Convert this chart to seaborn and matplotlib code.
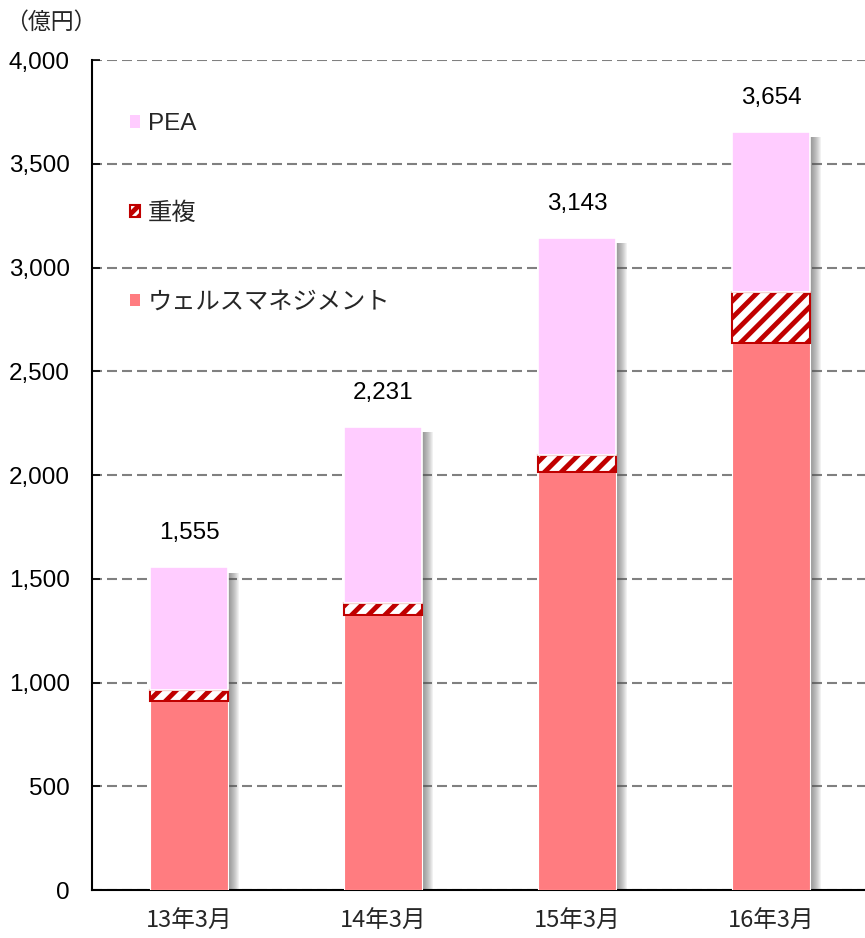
import numpy as np
import pandas as pd
import matplotlib
matplotlib.use("Agg")
import matplotlib.pyplot as plt
from matplotlib.patches import Patch
from matplotlib.ticker import FuncFormatter, MultipleLocator, FixedLocator
import seaborn as sns

# ---- data ----
categories = ["13年3月", "14年3月", "15年3月", "16年3月"]
wealth = [910, 1325, 2015, 2635]      # ウェルスマネジメント
overlap = [55, 58, 82, 245]           # 重複
pea = [590, 848, 1046, 774]           # PEA
totals = [1555, 2231, 3143, 3654]     # labels above bars

sns.set_theme(style="white")
plt.rcParams['font.family'] = ['Liberation Sans', 'Noto Sans CJK JP', 'DejaVu Sans']
plt.rcParams['hatch.linewidth'] = 3.5

C_WEALTH = "#ff7c80"
C_PEA = "#ffccff"
C_HATCH = "#c00000"

df = pd.DataFrame({"cat": categories, "wealth": wealth, "overlap": overlap, "pea": pea})
bottom_overlap = np.array(wealth, dtype=float)
bottom_pea = bottom_overlap + np.array(overlap, dtype=float)

fig = plt.figure(figsize=(8.65, 9.38), dpi=100)
ax = fig.add_axes([92/865, 48/938, 773/865, 830/938])

W = 0.40
xs = np.arange(len(categories))

# soft shadow on the right side of each bar (above gridlines, below bars)
for k in range(10):
    off = 0.005 * (k + 1)
    ax.bar(xs + off + 0.006, np.array(totals) - 25, width=W, bottom=0,
           color="#505050", alpha=0.075, linewidth=0, zorder=2)

sns.barplot(data=df, x="cat", y="wealth", color=C_WEALTH, width=W, ax=ax,
            saturation=1, edgecolor="white", linewidth=0.8, zorder=3)
ax.bar(xs, overlap, width=W, bottom=bottom_overlap, facecolor="white",
       edgecolor=C_HATCH, hatch="//", linewidth=1.5, zorder=3)
ax.bar(xs, pea, width=W, bottom=bottom_pea, color=C_PEA,
       edgecolor="white", linewidth=1.2, zorder=3)

for x, t in zip(xs, totals):
    ax.text(x, t + 165, f"{t:,}", ha="center", va="center", fontsize=17.5,
            color="black", zorder=5)

ax.set_xlim(-0.5, -0.5 + 773/194)
ax.set_ylim(0, 4000)
ax.yaxis.set_major_locator(MultipleLocator(500))
ax.yaxis.set_major_formatter(FuncFormatter(lambda v, p: f"{int(v):,}"))
ax.grid(axis="y", color="#808080", linestyle=(0, (4.8, 2.4)), linewidth=1.5, zorder=0)
ax.grid(axis="x", visible=False)
ax.set_axisbelow(True)

for s in ["top", "right"]:
    ax.spines[s].set_visible(False)
for s in ["left", "bottom"]:
    ax.spines[s].set_color("black")
    ax.spines[s].set_linewidth(1.5)

ax.set_xlabel("")
ax.set_ylabel("")
ax.set_xticks(xs)
ax.set_xticklabels(categories, fontsize=17, family=['Noto Sans CJK JP'])
ax.xaxis.set_minor_locator(FixedLocator([0.5, 1.5, 2.5]))
ax.tick_params(axis="x", which="major", length=0, pad=14)
ax.tick_params(axis="x", which="minor", direction="in", length=6, width=1.2, color="black")
ax.tick_params(axis="y", which="major", direction="in", length=6, width=1.2,
               color="black", labelsize=17.5, pad=16, left=True)
for lab in ax.get_yticklabels():
    lab.set_color("black")

handles = [Patch(facecolor=C_PEA, edgecolor="none"),
           Patch(facecolor="white", edgecolor=C_HATCH, hatch="///", linewidth=1.5),
           Patch(facecolor=C_WEALTH, edgecolor="none")]
labels = ["PEA", "重複", "ウェルスマネジメント"]
leg = ax.legend(handles, labels, loc="upper left", bbox_to_anchor=(0.021, 0.962),
                frameon=False, labelspacing=2.75,
                handlelength=0.42, handleheight=0.42, handletextpad=0.3,
                prop={'family': ['Liberation Sans', 'Noto Sans CJK JP'], 'size': 17.5})

fig.text(5/865, 1 - 22/938, "（億円）", fontsize=16.5, va="center", ha="left",
         family=['Noto Sans CJK JP'])

fig.savefig("out.png", dpi=100)
